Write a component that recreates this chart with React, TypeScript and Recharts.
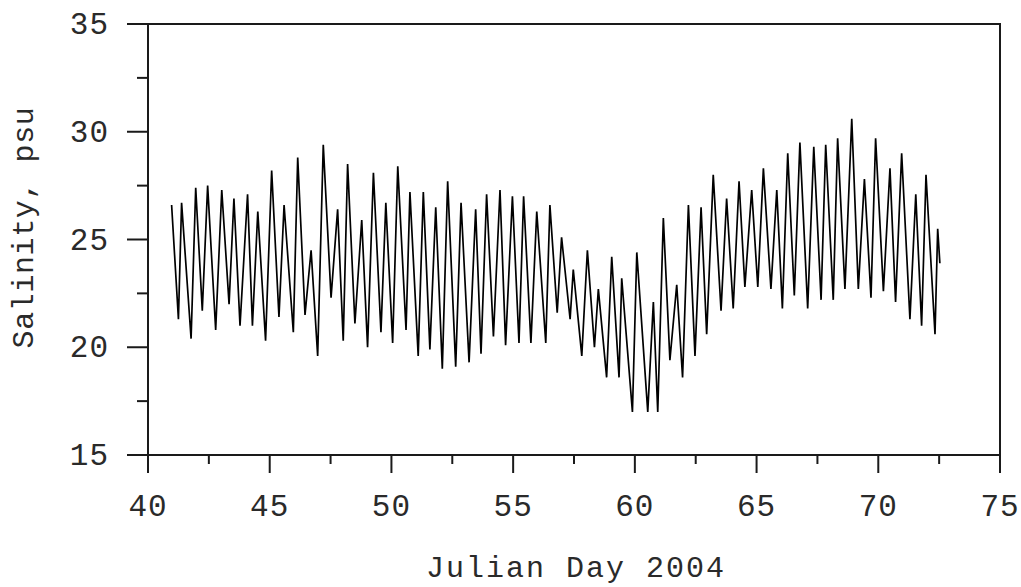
import React from 'react';
import { LineChart, Line, XAxis, YAxis, ReferenceArea, Label } from 'recharts';

// tidal extremes (day of year 2004, salinity in psu)
const julianDay = [
  40.97, 41.25, 41.38, 41.77, 41.96, 42.23, 42.45, 42.78, 43.03, 43.33,
  43.53, 43.78, 44.09, 44.29, 44.51, 44.83, 45.08, 45.38, 45.59, 45.97,
  46.15, 46.45, 46.7, 46.97, 47.2, 47.52, 47.79, 48.02, 48.2, 48.5,
  48.78, 49.02, 49.26, 49.57, 49.77, 50.05, 50.26, 50.6, 50.76, 51.1,
  51.31, 51.58, 51.82, 52.09, 52.31, 52.64, 52.86, 53.19, 53.46, 53.68,
  53.91, 54.19, 54.46, 54.69, 54.97, 55.24, 55.43, 55.73, 55.97, 56.34,
  56.51, 56.81, 56.99, 57.34, 57.47, 57.82, 58.05, 58.34, 58.5, 58.84,
  59.05, 59.35, 59.46, 59.9, 60.08, 60.53, 60.76, 60.94, 61.17, 61.44,
  61.72, 61.96, 62.2, 62.47, 62.72, 62.95, 63.22, 63.54, 63.77, 64.04,
  64.28, 64.52, 64.8, 65.05, 65.28, 65.59, 65.83, 66.06, 66.28, 66.55,
  66.78, 67.1, 67.35, 67.65, 67.84, 68.15, 68.33, 68.63, 68.91, 69.18,
  69.43, 69.7, 69.89, 70.21, 70.48, 70.71, 70.96, 71.3, 71.54, 71.78,
  71.96, 72.33, 72.44, 72.53,
];

const salinity = [
  26.6, 21.3, 26.7, 20.4, 27.4, 21.7, 27.5, 20.8, 27.3, 22.0,
  26.9, 21.0, 27.1, 21.0, 26.3, 20.3, 28.2, 21.4, 26.6, 20.7,
  28.8, 21.5, 24.5, 19.6, 29.4, 22.3, 26.4, 20.3, 28.5, 21.1,
  25.9, 20.0, 28.1, 20.7, 26.7, 20.2, 28.4, 20.8, 27.2, 19.6,
  27.2, 19.9, 26.5, 19.0, 27.7, 19.1, 26.7, 19.3, 26.4, 19.7,
  27.1, 20.5, 27.3, 20.1, 27.0, 20.2, 27.0, 20.2, 26.3, 20.2,
  26.6, 21.6, 25.1, 21.3, 23.6, 19.6, 24.5, 20.0, 22.7, 18.6,
  24.2, 18.6, 23.2, 17.0, 24.4, 17.0, 22.1, 17.0, 26.0, 19.4,
  22.9, 18.6, 26.6, 19.6, 26.5, 20.6, 28.0, 21.7, 26.9, 21.8,
  27.7, 22.8, 27.3, 22.8, 28.3, 22.7, 27.3, 21.8, 29.0, 22.4,
  29.5, 21.8, 29.3, 22.2, 29.4, 22.2, 29.7, 22.7, 30.6, 22.7,
  27.8, 22.3, 29.7, 22.6, 28.3, 22.1, 29.0, 21.3, 27.1, 21.0,
  28.0, 20.6, 25.5, 23.9,
];

const xTicks = [40, 42.5, 45, 47.5, 50, 52.5, 55, 57.5, 60, 62.5, 65, 67.5, 70, 72.5, 75];
const yTicks = [15, 17.5, 20, 22.5, 25, 27.5, 30, 32.5, 35];

const rows = julianDay.map((d, i) => ({ day: d, sal: salinity[i] }));

const FONT = '"Liberation Mono", "Courier New", monospace';
const INK = '#1a1a1a';
const TEXT = '#2a2a2a';

const isMajor = (v: number) => v % 5 === 0;

const XTick = ({ x, y, payload }: any) => {
  const major = isMajor(payload.value);
  return (
    <g>
      <line x1={x} x2={x} y1={y} y2={y + (major ? 18 : 9)} stroke={INK} strokeWidth={2} />
      {major && (
        <text x={x} y={y + 61} textAnchor="middle" fontFamily={FONT} fontSize={31} letterSpacing={1} fill={TEXT}>
          {payload.value}
        </text>
      )}
    </g>
  );
};

const YTick = ({ x, y, payload }: any) => {
  const major = isMajor(payload.value);
  return (
    <g>
      <line x1={x - (major ? 21 : 11)} x2={x} y1={y} y2={y} stroke={INK} strokeWidth={2} />
      {major && (
        <text x={x - 39} y={y + 10} textAnchor="end" fontFamily={FONT} fontSize={31} letterSpacing={1} fill={TEXT}>
          {payload.value}
        </text>
      )}
    </g>
  );
};

export default function App() {
  return (
    <div style={{ position: 'absolute', left: 0, top: 0, width: 1021, height: 587, background: '#fff' }}>
      <LineChart width={1021} height={587} data={rows} margin={{ top: 24, right: 21, bottom: 0, left: 0 }}>
        <XAxis
          dataKey="day"
          type="number"
          domain={[40, 75]}
          ticks={xTicks}
          interval={0}
          height={132}
          tickSize={0}
          tickMargin={0}
          tickLine={false}
          axisLine={{ stroke: INK, strokeWidth: 2 }}
          tick={<XTick />}
        >
          <Label
            content={({ viewBox }: any) => (
              <text
                x={viewBox.x + viewBox.width / 2 + 2}
                y={viewBox.y + 122}
                textAnchor="middle"
                fontFamily={FONT}
                fontSize={30}
                letterSpacing={2}
                fill={TEXT}
              >
                Julian Day 2004
              </text>
            )}
          />
        </XAxis>
        <YAxis
          type="number"
          domain={[15, 35]}
          ticks={yTicks}
          interval={0}
          width={148}
          tickSize={0}
          tickMargin={0}
          tickLine={false}
          axisLine={{ stroke: INK, strokeWidth: 2 }}
          tick={<YTick />}
        >
          <Label
            content={({ viewBox }: any) => {
              const cy = viewBox.y + viewBox.height / 2 - 12;
              return (
                <text
                  x={33}
                  y={cy}
                  transform={`rotate(-90 33 ${cy})`}
                  textAnchor="middle"
                  fontFamily={FONT}
                  fontSize={30}
                  letterSpacing={0.6}
                  fill={TEXT}
                >
                  Salinity, psu
                </text>
              );
            }}
          />
        </YAxis>
        <ReferenceArea x1={40} x2={75} y1={15} y2={35} fill="none" stroke={INK} strokeWidth={2} />
        <Line
          type="linear"
          dataKey="sal"
          stroke="#000"
          strokeWidth={1.7}
          dot={false}
          activeDot={false}
          isAnimationActive={false}
        />
      </LineChart>
    </div>
  );
}
